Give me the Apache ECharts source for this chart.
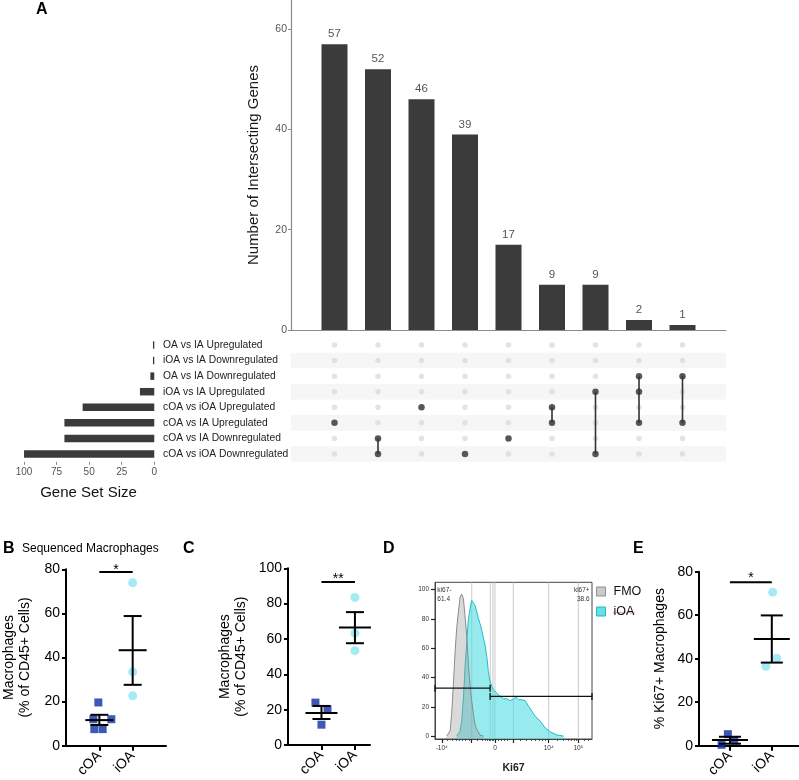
<!DOCTYPE html>
<html>
<head>
<meta charset="utf-8">
<script src="https://cdn.jsdelivr.net/npm/echarts@6/dist/echarts.min.js"></script>
<style>
  html, body { margin: 0; padding: 0; background: #fff; }
  #main { width: 799px; height: 780px; }
</style>
</head>
<body>
<div id="main"></div>
<script>
// ---- data -------------------------------------------------------------
// A: UpSet plot
var intersectionSizes = [57, 52, 46, 39, 17, 9, 9, 2, 1];
var setNames = ['OA vs IA Upregulated', 'iOA vs IA Downregulated', 'OA vs IA Downregulated',
  'iOA vs IA Upregulated', 'cOA vs iOA Upregulated', 'cOA vs IA Upregulated',
  'cOA vs IA Downregulated', 'cOA vs iOA Downregulated'];
var setSizes = [1, 1, 3, 11, 55, 69, 69, 100];
// which sets (row index) take part in each intersection column
var intersectionMembers = [[5], [6, 7], [4], [7], [6], [4, 5], [3, 7], [2, 3, 5], [2, 5]];

var groups = ['cOA', 'iOA'];

// B: sequenced macrophages, [jitter x, value]
var seqCOA = [[0.97, 19.6], [0.82, 12], [1.36, 12], [0.85, 7.5], [1.1, 7.5]];
var seqIOA = [[2, 73.9], [2, 33.5], [2, 22.6]];
var seqStats = [[1, 11.6, 9.4, 14.0], [2, 43.3, 27.6, 58.8]]; // x, mean, low, high
var seqSig = [[1, 2, 78.8]];
var seqSigText = ['*'];

// C: macrophages % of CD45+
var macCOA = [[0.82, 24], [1.18, 20.2], [1, 11.5]];
var macIOA = [[2, 83.5], [2, 63.3], [2, 53.4]];
var macStats = [[1, 18.1, 14.7, 22.1], [2, 66.5, 57.6, 75.2]];
var macSig = [[1, 2, 92.2]];
var macSigText = ['**'];

// D: Ki67 histogram (display scale 0-100 on x)
var fmoX = [7.4, 9.6, 10.6, 11.7, 12.8, 13.8, 14.9, 16, 17, 18.1, 19.1, 20.2, 21.3, 22.3, 23.4, 24.5, 25.5, 26.6, 28.7, 30.9];
var fmoY = [0, 3.4, 14.7, 35, 57.6, 73.4, 84.7, 94.8, 97, 93.7, 82.4, 68.8, 48.5, 35, 23.7, 14.7, 7.9, 4.5, 0.6, 0];
var ioaX = [13.8, 16, 17, 18.1, 19.1, 20.2, 21.3, 22.3, 23.4, 24.5, 25.5, 26.6, 27.7, 28.7, 29.8, 30.9, 31.9,
  33, 34, 35.1, 36.2, 37.2, 39.4, 41.5, 43.6, 45.7, 47.9, 50, 51.7, 53.2, 55.3, 57.4, 59.6, 61.7, 63.8,
  67, 70.2, 73.4, 77.7, 81.9];
var ioaY = [0, 3.4, 10.2, 26, 46.3, 64.3, 80.1, 86.9, 92.6, 93.7, 89.2, 84.7, 80.1, 76.7, 72.2, 66.6, 62.1,
  54.2, 44, 37.2, 33.9, 31.6, 29.3, 27.1, 25.5, 25.5, 24.2, 25.5, 26.4, 24.8, 24.8, 24.2, 20.3, 16.9, 13.5,
  10.2, 5.6, 2.9, 0.7, 0];
var flowGridX = [23.4, 35.2, 36.9, 38.2, 49.9, 72.4, 91.3];
var flowLabelX = [4.3, 38.2, 72.4, 91.3];
var flowLabels = ['-10\u2074', '0', '10\u2074', '10\u2075'];
var flowMajorTicks = [4.3, 23.4, 38.2, 49.9, 72.4, 91.3];
var flowMinorTicks = [8, 11, 13.5, 15.5, 17.5, 19.5, 21.5, 27, 30, 32, 33.5, 34.5, 35.5, 36.5, 37.2,
  40, 42, 44, 46, 54, 58, 61, 64, 66.5, 68.5, 70.5, 78, 82, 85, 87, 88.5, 90, 95, 97.5];
var gates = [[0, 35.1, 32.7], [35.1, 100, 27.1]];
var gateText = [[1.5, 103, 'ki67-\n61.4'], [98.5, 103, 'ki67+\n38.6']];

// E: % Ki67+ macrophages
var kiCOA = [[0.8, 0.4], [0.95, 5.3], [1.1, 2.4]];
var kiIOA = [[2.02, 70.6], [2.12, 40.2], [1.86, 36.5]];
var kiStats = [[1, 2.6, 0.9, 4.1], [2, 49.1, 38.2, 59.9]];
var kiSig = [[1, 2, 75.2]];
var kiSigText = ['*'];

// ---- helpers ----------------------------------------------------------
var FONT = '"Liberation Sans", Arial, sans-serif';
var DARK = '#3b3b3b';
var BLUE = '#0f2ea3';
var CYAN = '#8de6f2';

function dotXAxis(gridIndex, min, max) {
  return {
    type: 'value', gridIndex: gridIndex, min: min, max: max,
    axisLine: { onZero: false, lineStyle: { color: '#000', width: 2 } },
    axisTick: { show: true, customValues: [1, 2], length: 5, lineStyle: { color: '#000', width: 2 } },
    axisLabel: {
      customValues: [1, 2], rotate: 45, margin: 8, fontSize: 14, color: '#000', fontFamily: FONT,
      formatter: function (v) { return groups[Math.round(v) - 1]; }
    },
    splitLine: { show: false }
  };
}
function dotYAxis(gridIndex, max, name, gap) {
  return {
    type: 'value', gridIndex: gridIndex, min: 0, max: max, interval: 20,
    axisLine: { show: true, onZero: false, lineStyle: { color: '#000', width: 2 } },
    axisTick: { show: true, length: 4, lineStyle: { color: '#000', width: 2 } },
    axisLabel: { fontSize: 14, color: '#000', margin: 6, fontFamily: FONT },
    splitLine: { show: false },
    name: name, nameLocation: 'middle', nameRotate: 90, nameGap: gap,
    nameTextStyle: { fontSize: 14, color: '#000', fontFamily: FONT, lineHeight: 16, align: 'center' }
  };
}
function errRender(meanHalf, capHalf) {
  return function (params, api) {
    var x = api.value(0);
    var pm = api.coord([x, api.value(1)]);
    var pl = api.coord([x, api.value(2)]);
    var ph = api.coord([x, api.value(3)]);
    var st = { stroke: '#000', lineWidth: 2 };
    return {
      type: 'group', children: [
        { type: 'line', shape: { x1: pm[0], y1: pl[1], x2: pm[0], y2: ph[1] }, style: st },
        { type: 'line', shape: { x1: pm[0] - meanHalf, y1: pm[1], x2: pm[0] + meanHalf, y2: pm[1] }, style: st },
        { type: 'line', shape: { x1: pm[0] - capHalf, y1: pl[1], x2: pm[0] + capHalf, y2: pl[1] }, style: st },
        { type: 'line', shape: { x1: pm[0] - capHalf, y1: ph[1], x2: pm[0] + capHalf, y2: ph[1] }, style: st }
      ]
    };
  };
}
function sigRender(texts, off) {
  return function (params, api) {
    var a = api.coord([api.value(0), api.value(2)]);
    var b = api.coord([api.value(1), api.value(2)]);
    return {
      type: 'group', children: [
        { type: 'line', shape: { x1: a[0], y1: a[1], x2: b[0], y2: b[1] }, style: { stroke: '#000', lineWidth: 2 } },
        { type: 'text', x: (a[0] + b[0]) / 2, y: a[1] - off,
          style: { text: texts[params.dataIndex], fontSize: 14, fontFamily: FONT, fill: '#000', align: 'center', verticalAlign: 'top' } }
      ]
    };
  };
}
function dotSeries(xi, yi, cOA, iOA, stats, sig, sigText, meanHalf, capHalf, sigOff) {
  return [
    { type: 'scatter', xAxisIndex: xi, yAxisIndex: yi, data: cOA, symbol: 'rect', symbolSize: 8,
      itemStyle: { color: BLUE }, z: 3 },
    { type: 'scatter', xAxisIndex: xi, yAxisIndex: yi, data: iOA, symbol: 'circle', symbolSize: 9,
      itemStyle: { color: CYAN }, z: 3 },
    { type: 'custom', xAxisIndex: xi, yAxisIndex: yi, data: stats, renderItem: errRender(meanHalf, capHalf), z: 4 },
    { type: 'custom', xAxisIndex: xi, yAxisIndex: yi, data: sig, renderItem: sigRender(sigText, sigOff), z: 4 }
  ];
}

// matrix pieces
var bgDots = [];
var darkDots = [];
var linkLines = [];
intersectionMembers.forEach(function (rows, c) {
  for (var r = 0; r < setNames.length; r++) bgDots.push([c, r]);
  rows.forEach(function (r) { darkDots.push([c, r]); });
  if (rows.length > 1) linkLines.push([c, Math.min.apply(null, rows), Math.max.apply(null, rows)]);
});

// ---- chart ------------------------------------------------------------
var chart = echarts.init(document.getElementById('main'));

var PANEL_TOP = 541;
function panelLetter(t, x) {
  return { type: 'text', left: x, top: PANEL_TOP, style: { text: t, fontSize: 16, fontWeight: 'bold', fontFamily: FONT, fill: '#000' } };
}

var option = {
  animation: false,
  textStyle: { fontFamily: FONT },
  grid: [
    { left: 291, top: 0, width: 435, height: 330 },           // 0 intersections
    { left: 291, top: 337.2, width: 435, height: 124.6 },     // 1 matrix
    { left: 17, top: 337.2, width: 143, height: 124.6 },      // 2 set sizes
    { left: 66, top: 569.3, width: 100, height: 176.7 },      // 3 B
    { left: 288, top: 568.3, width: 82, height: 176.7 },      // 4 C
    { left: 435, top: 582.3, width: 157, height: 156.7, show: true, borderColor: '#444', borderWidth: 1 }, // 5 D
    { left: 699, top: 571.7, width: 100, height: 176 }        // 6 E
  ],
  xAxis: [
    { type: 'value', gridIndex: 0, min: -1, max: 9,
      axisLine: { onZero: false, lineStyle: { color: '#8a8a8a', width: 1.2 } },
      axisTick: { show: false }, axisLabel: { show: false }, splitLine: { show: false } },
    { type: 'value', gridIndex: 1, min: -1, max: 9, show: false },
    { type: 'value', gridIndex: 2, min: -4.4, max: 105.4, inverse: true,
      axisLine: { onZero: false, lineStyle: { color: '#8a8a8a', width: 1.2 } },
      axisTick: { show: true, customValues: [0, 25, 50, 75, 100], length: 3, lineStyle: { color: '#8a8a8a' } },
      axisLabel: { customValues: [0, 25, 50, 75, 100], fontSize: 10, color: '#555', margin: 5 },
      splitLine: { show: false },
      name: 'Gene Set Size', nameLocation: 'middle', nameGap: 24,
      nameTextStyle: { fontSize: 15, color: '#111', verticalAlign: 'top' } },
    dotXAxis(3, 0, 3),
    dotXAxis(4, 0, 2.45),
    { type: 'value', gridIndex: 5, min: 0, max: 100, position: 'bottom',
      axisLine: { onZero: false, lineStyle: { color: '#444', width: 1 } },
      axisTick: { show: true, customValues: flowMajorTicks, length: 4, lineStyle: { color: '#222', width: 1.2 } },
      axisLabel: { customValues: flowLabelX, fontSize: 6.5, color: '#333', margin: 6,
        formatter: function (v) { return flowLabels[flowLabelX.indexOf(v)]; } },
      splitLine: { show: false },
      name: 'Ki67', nameLocation: 'middle', nameGap: 24,
      nameTextStyle: { fontSize: 10.5, fontWeight: 'bold', color: '#222' } },
    { type: 'value', gridIndex: 5, min: 0, max: 100, position: 'bottom',
      axisLine: { show: false, onZero: false },
      axisTick: { show: true, customValues: flowMinorTicks, length: 2, lineStyle: { color: '#333', width: 0.8 } },
      axisLabel: { show: false }, splitLine: { show: false } },
    dotXAxis(6, 0.26, 2.65)
  ],
  yAxis: [
    { type: 'value', gridIndex: 0, min: 0, max: 65.8,
      axisLine: { show: true, onZero: false, lineStyle: { color: '#8a8a8a', width: 1.2 } },
      axisTick: { show: true, customValues: [0, 20, 40, 60], length: 3, lineStyle: { color: '#8a8a8a' } },
      axisLabel: { customValues: [0, 20, 40, 60], fontSize: 10.5, color: '#555', margin: 4 },
      splitLine: { show: false },
      name: 'Number of Intersecting Genes', nameLocation: 'middle', nameRotate: 90, nameGap: 30,
      nameTextStyle: { fontSize: 15, color: '#1a1a1a' } },
    { type: 'category', gridIndex: 1, data: setNames, inverse: true,
      axisLine: { show: false }, axisTick: { show: false, interval: 0 }, axisLabel: { show: false, interval: 0 },
      splitArea: { show: true, interval: 0, areaStyle: { color: ['rgba(255,255,255,0)', '#f6f6f6'] } } },
    { type: 'category', gridIndex: 2, data: setNames, inverse: true, position: 'right',
      axisLine: { show: false }, axisTick: { show: false },
      axisLabel: { interval: 0, fontSize: 10.3, color: '#222', margin: 3, align: 'left' } },
    dotYAxis(3, 80, 'Macrophages\n(% of CD45+ Cells)', 33),
    dotYAxis(4, 100, 'Macrophages\n(% of CD45+ Cells)', 39),
    { type: 'value', gridIndex: 5, min: -2, max: 105,
      axisLine: { show: true, onZero: false, lineStyle: { color: '#444', width: 1 } },
      axisTick: { show: true, customValues: [0, 20, 40, 60, 80, 100], length: 4, lineStyle: { color: '#222', width: 1.2 } },
      axisLabel: { customValues: [0, 20, 40, 60, 80, 100], fontSize: 6.5, color: '#333', margin: 6 },
      splitLine: { show: false } },
    { type: 'value', gridIndex: 6, min: 0, max: 80, interval: 20,
      axisLine: { show: true, onZero: false, lineStyle: { color: '#000', width: 2 } },
      axisTick: { show: true, length: 4, lineStyle: { color: '#000', width: 2 } },
      axisLabel: { fontSize: 14, color: '#000', margin: 6 },
      splitLine: { show: false },
      name: '% Ki67+ Macrophages', nameLocation: 'middle', nameRotate: 90, nameGap: 32,
      nameTextStyle: { fontSize: 14, color: '#000' } }
  ],
  legend: {
    left: 596, top: 585, orient: 'vertical', icon: 'rect', itemWidth: 9, itemHeight: 9, itemGap: 7,
    padding: 0, selectedMode: false,
    textStyle: { fontSize: 12.5, color: '#111', padding: [0, 0, 0, 3] },
    data: [
      { name: 'FMO', itemStyle: { color: '#cacaca', borderColor: '#8f8f8f', borderWidth: 1 } },
      { name: 'iOA', itemStyle: { color: '#63e2e8', borderColor: '#25b6bf', borderWidth: 1 } }
    ]
  },
  graphic: [
    { type: 'text', left: 36, top: 2, style: { text: 'A', fontSize: 16, fontWeight: 'bold', fontFamily: FONT, fill: '#000' } },
    panelLetter('B', 3),
    { type: 'text', left: 22, top: PANEL_TOP + 2, style: { text: 'Sequenced Macrophages', fontSize: 12, fontFamily: FONT, fill: '#000' } },
    panelLetter('C', 183),
    panelLetter('D', 383),
    panelLetter('E', 633),
    // spell-check squiggle under the legend label
    { type: 'polyline', shape: { points: [[613, 612], [615, 613.5], [617, 612], [619, 613.5], [621, 612], [623, 613.5],
      [625, 612], [627, 613.5], [629, 612], [631, 613.5], [633, 612], [635, 613.5]] },
      style: { stroke: '#e07070', lineWidth: 0.8, fill: null } }
  ],
  series: [
    // A: intersection bars
    { type: 'bar', xAxisIndex: 0, yAxisIndex: 0, barWidth: 26,
      data: intersectionSizes.map(function (v, i) { return [i, v]; }),
      itemStyle: { color: DARK },
      label: { show: true, position: 'top', distance: 4, fontSize: 11.5, color: '#555',
        formatter: function (p) { return p.value[1]; } } },
    // A: matrix
    { type: 'scatter', xAxisIndex: 1, yAxisIndex: 1, data: bgDots, symbolSize: 5.5,
      itemStyle: { color: '#dcdcdc' }, z: 2 },
    { type: 'custom', xAxisIndex: 1, yAxisIndex: 1, data: linkLines, z: 3,
      renderItem: function (params, api) {
        var a = api.coord([api.value(0), api.value(1)]);
        var b = api.coord([api.value(0), api.value(2)]);
        return { type: 'line', shape: { x1: a[0], y1: a[1], x2: b[0], y2: b[1] },
          style: { stroke: '#333', lineWidth: 1.6 } };
      } },
    { type: 'scatter', xAxisIndex: 1, yAxisIndex: 1, data: darkDots, symbolSize: 6.5,
      itemStyle: { color: '#333' }, z: 4 },
    // A: set size bars
    { type: 'bar', xAxisIndex: 2, yAxisIndex: 2, data: setSizes, barWidth: 7.5,
      itemStyle: { color: DARK } },
    // D: gridlines
    { type: 'custom', xAxisIndex: 5, yAxisIndex: 5, z: 1, silent: true,
      data: flowGridX.map(function (v) { return [v, 0]; }),
      renderItem: function (params, api) {
        var p = api.coord([api.value(0), 0]);
        var cs = params.coordSys;
        return { type: 'line', shape: { x1: p[0], y1: cs.y, x2: p[0], y2: cs.y + cs.height },
          style: { stroke: '#c4c4c4', lineWidth: 0.9 } };
      } },
    // D: histograms (grey FMO drawn translucent over the iOA fill)
    { name: 'iOA', type: 'line', xAxisIndex: 5, yAxisIndex: 5, showSymbol: false, z: 2,
      data: ioaX.map(function (x, i) { return [x, ioaY[i]]; }),
      itemStyle: { color: '#63e2e8' },
      lineStyle: { color: '#1fbcc4', width: 1 },
      areaStyle: { color: 'rgba(80,222,226,0.85)', origin: 'start' } },
    { name: 'FMO', type: 'line', xAxisIndex: 5, yAxisIndex: 5, showSymbol: false, z: 3,
      data: fmoX.map(function (x, i) { return [x, fmoY[i]]; }),
      itemStyle: { color: '#cacaca' },
      lineStyle: { color: '#8a8a8a', width: 1 },
      areaStyle: { color: 'rgba(150,150,150,0.5)', origin: 'start' } },
    // D: gates
    { type: 'custom', xAxisIndex: 5, yAxisIndex: 5, z: 5, data: gates,
      renderItem: function (params, api) {
        var a = api.coord([api.value(0), api.value(2)]);
        var b = api.coord([api.value(1), api.value(2)]);
        var st = { stroke: '#111', lineWidth: 1.3 };
        return { type: 'group', children: [
          { type: 'line', shape: { x1: a[0], y1: a[1], x2: b[0], y2: b[1] }, style: st },
          { type: 'line', shape: { x1: a[0], y1: a[1] - 3.5, x2: a[0], y2: a[1] + 3.5 }, style: st },
          { type: 'line', shape: { x1: b[0], y1: b[1] - 3.5, x2: b[0], y2: b[1] + 3.5 }, style: st }
        ] };
      } },
    { type: 'custom', xAxisIndex: 5, yAxisIndex: 5, z: 5, data: gateText.map(function (g) { return [g[0], g[1]]; }),
      renderItem: function (params, api) {
        var p = api.coord([api.value(0), api.value(1)]);
        var left = params.dataIndex === 0;
        return { type: 'text', x: p[0], y: p[1],
          style: { text: gateText[params.dataIndex][2], fontSize: 6.5, lineHeight: 9, fontFamily: FONT,
            fill: '#333', align: left ? 'left' : 'right', verticalAlign: 'top' } };
      } }
  ]
    .concat(dotSeries(3, 3, seqCOA, seqIOA, seqStats, seqSig, seqSigText, 14, 9, 9))
    .concat(dotSeries(4, 4, macCOA, macIOA, macStats, macSig, macSigText, 16, 9, 10))
    .concat(dotSeries(7, 6, kiCOA, kiIOA, kiStats, kiSig, kiSigText, 18, 11, 11))
};

chart.setOption(option);
window.addEventListener('resize', function () { chart.resize(); });
</script>
</body>
</html>
